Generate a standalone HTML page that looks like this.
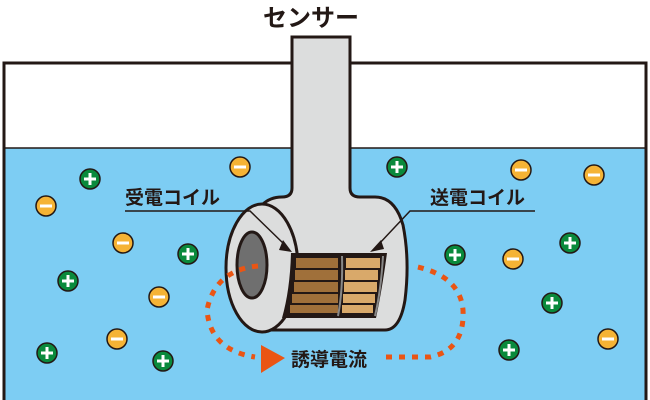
<!DOCTYPE html><html><head><meta charset="utf-8"><style>body{margin:0}svg{display:block}text{font-family:"Liberation Sans","Noto Sans CJK JP",sans-serif;font-weight:bold}</style></head><body>
<svg width="650" height="400" viewBox="0 0 650 400" xmlns="http://www.w3.org/2000/svg">
<rect x="0" y="0" width="650" height="400" fill="#fff"/>
<rect x="4" y="148" width="642" height="260" fill="#7dcdf3"/>
<path d="M4 402 V63 H646 V402" fill="none" stroke="#231815" stroke-width="3"/>
<line x1="4" y1="148" x2="646" y2="148" stroke="#231815" stroke-width="1.5"/>
<defs><g id="p"><circle r="10" fill="#0a8a3c" stroke="#231815" stroke-width="1.5"/><path d="M-6 0H6M0 -6V6" stroke="#fff" stroke-width="3"/></g>
<g id="m"><circle r="10" fill="#f5b335" stroke="#231815" stroke-width="1.5"/><path d="M-6 0H6" stroke="#fff" stroke-width="3"/></g></defs>
<use href="#p" x="90" y="179"/><use href="#p" x="397" y="167"/><use href="#p" x="188" y="254"/><use href="#p" x="68" y="281"/><use href="#p" x="570" y="243"/><use href="#p" x="455" y="255"/><use href="#p" x="552" y="303"/><use href="#p" x="47" y="353"/><use href="#p" x="163" y="361"/><use href="#p" x="509" y="350"/>
<use href="#m" x="240" y="167"/><use href="#m" x="46" y="206"/><use href="#m" x="123" y="243"/><use href="#m" x="521" y="170"/><use href="#m" x="594" y="175"/><use href="#m" x="513" y="259"/><use href="#m" x="159" y="297"/><use href="#m" x="117" y="339"/><use href="#m" x="608" y="339"/>
<path d="M292 37 H350 V188 Q350 197 360 197 H375 Q395 197 403 225 Q410 260 405 300 Q400 330 385 330 H262 L262 205 Q270 197 282 197 Q292 197 292 188 Z" fill="#dcdddd" stroke="#231815" stroke-width="3"/>
<ellipse cx="262" cy="268" rx="36" ry="64" fill="#dcdddd" stroke="#231815" stroke-width="3"/>
<ellipse cx="252" cy="265" rx="15" ry="33" fill="#6f6f6f" stroke="#231815" stroke-width="3"/>
<path d="M291 253 H387 Q382 290 376 318 H282 Q290 290 291 253 Z" fill="#231815"/>
<g fill="#a0703a"><rect x="296" y="258" width="42" height="10"/><rect x="295" y="270" width="43" height="10"/><rect x="294" y="282" width="44" height="10"/><rect x="292" y="294" width="46" height="9"/><rect x="290" y="305" width="48" height="8"/></g>
<g fill="#d9a96a"><rect x="346" y="258" width="34" height="10"/><rect x="345" y="270" width="33" height="10"/><rect x="344" y="282" width="33" height="10"/><rect x="343" y="294" width="32" height="9"/><rect x="342" y="305" width="31" height="8"/></g>
<path d="M342 256 Q343 290 338 316" stroke="#888" stroke-width="2" fill="none"/>
<path d="M383 256 Q381 290 375 316" stroke="#888" stroke-width="2" fill="none"/>
<text x="125" y="204" font-size="19" fill="#231815">受電コイル</text>
<text x="430" y="204" font-size="19" fill="#231815">送電コイル</text>
<path d="M125 211 H250 L285 245" fill="none" stroke="#231815" stroke-width="1.5"/>
<path d="M283 240 L292 252 L279 250 Z" fill="#231815"/>
<path d="M535 211 H410 L378 245" fill="none" stroke="#231815" stroke-width="1.5"/>
<path d="M381 240 L370 252 L384 249 Z" fill="#231815"/>
<text x="263" y="26" font-size="24" fill="#231815">センサー</text>
<path d="M258 266 Q215 270 207 310 Q210 350 255 357" fill="none" stroke="#ea5514" stroke-width="5" stroke-dasharray="6 7"/>
<path d="M386 357 H430 Q465 350 463 310 Q460 275 413 266" fill="none" stroke="#ea5514" stroke-width="5" stroke-dasharray="6 7"/>
<path d="M261 345 L285 358 L261 373 Z" fill="#ea5514"/>
<text x="291" y="366" font-size="19" fill="#231815">誘導電流</text>
</svg></body></html>
